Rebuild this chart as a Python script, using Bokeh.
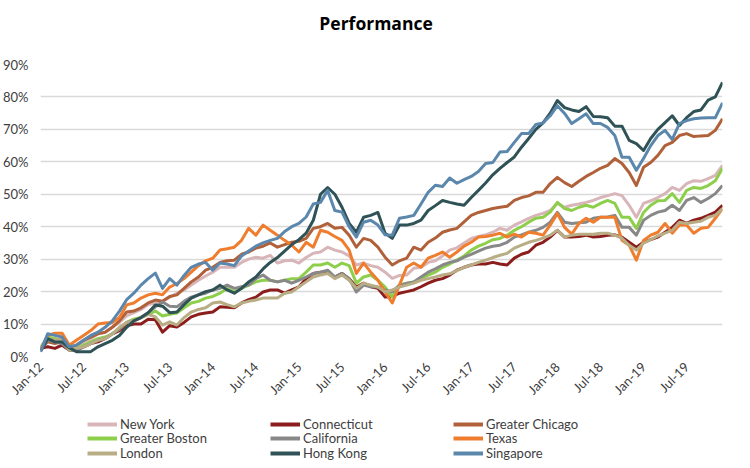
from bokeh.plotting import figure
from bokeh.models import Range1d, FixedTicker, Legend, LegendItem
from bokeh.core.properties import value
from bokeh.layouts import column
from bokeh.embed import file_html
from bokeh.resources import INLINE
import math

months = ["Jan", "Feb", "Mar", "Apr", "May", "Jun", "Jul", "Aug", "Sep", "Oct", "Nov", "Dec"]
dates = [f"{m}-{y:02d}" for y in range(12, 20) for m in months]
tick_labels = ["Jan-12", "Jul-12", "Jan-13", "Jul-13", "Jan-14", "Jul-14", "Jan-15", "Jul-15",
               "Jan-16", "Jul-16", "Jan-17", "Jul-17", "Jan-18", "Jul-18", "Jan-19", "Jul-19"]

new_york = [2, 5, 5.5, 5, 2.5, 3, 4.5, 5.5, 7, 7.5, 9, 10.5,
            12.5, 13.5, 14.5, 16, 16.5, 17, 18.3, 19.5, 20.5, 22, 23.5, 24.8,
            26, 27.5, 27.5, 27.5, 29, 30, 30.6, 30.3, 31.2, 28.8, 29.5, 29.7,
            28.8, 30.5, 31.8, 32.2, 33.7, 32.8, 32.2, 31, 28.2, 28.8, 28, 27.5,
            26, 24.1, 25, 25.1, 27.2, 27.5, 29, 29.5, 31, 32.8, 33.5, 35,
            36.4, 37, 37.5, 38.3, 39.5, 38.9, 40.5, 41.5, 42.6, 43.5, 44.1, 45,
            47.2, 46, 46.6, 47, 47.5, 48.1, 49, 49.6, 50.2, 49.6, 46.6, 42.9,
            47.2, 48, 49, 50.2, 52.1, 51.2, 53.3, 54.2, 54, 54.8, 55.8, 58.9]
connecticut = [2.5, 3, 2.5, 3.5, 2, 2, 3, 4, 4.5, 5.5, 7, 8,
               9.5, 10, 10, 11.5, 11.3, 7.5, 9.5, 9.1, 10.5, 12.2, 13, 13.4,
               13.7, 15.3, 15.2, 15, 16.5, 17.5, 18.3, 19.9, 20.5, 20.5, 19.5, 20.5,
               21.5, 24, 25.6, 26, 26, 24.5, 25.6, 24, 21.4, 22.6, 21.5, 21,
               18.3, 18.5, 19.5, 20, 20.5, 21.5, 22.6, 23.5, 24, 25.1, 26.6, 27.5,
               28.2, 28.5, 28.5, 29, 28.5, 28.2, 30.3, 31.5, 32.2, 34.3, 35.2, 36.8,
               38.9, 36.8, 36.8, 37, 37.4, 36.8, 37, 37.4, 37.5, 36.8, 35.2, 33.7,
               35.2, 36, 36.8, 38.3, 39.8, 42, 41, 42, 42.6, 43.5, 44.5, 46.6]
greater_chicago = [2.5, 4.5, 4, 4.5, 2.5, 3.5, 5, 6, 7, 7.5, 9, 11,
                   13.7, 14, 15, 16.5, 17.4, 17, 18.5, 19, 21, 23, 24.5, 26.6,
                   27.5, 29, 29.5, 29.7, 31.5, 32.2, 33.4, 34, 35, 33.7, 34.5, 35.2,
                   35.5, 36.4, 39.5, 40, 41, 39.5, 39.8, 37.4, 33.7, 36.4, 35.8, 33.7,
                   30.6, 28.2, 29.5, 30.3, 33.7, 32.8, 35.2, 36.5, 38.3, 39, 39.5, 41.5,
                   43.5, 44.4, 45, 45.6, 46, 46.3, 48.1, 49, 49.5, 50.6, 50.6, 53.3,
                   55.2, 53.6, 52.4, 54, 55.5, 56.7, 58, 58.9, 61, 59.5, 56.7, 52.7,
                   58.3, 59.8, 62, 65, 66, 68.1, 68.7, 67.8, 68, 68.1, 69.7, 73.3]
greater_boston = [2.5, 6, 5.5, 5, 2, 2.5, 3.5, 4.5, 5.5, 6, 7, 8.5,
                  10.5, 11.5, 12, 13, 14, 12.5, 13, 13.4, 15, 16.5, 17, 18,
                  18.5, 19.5, 21, 19.9, 21, 22, 23, 23.5, 23.5, 23, 23.5, 24,
                  24, 26, 28.2, 28.2, 28.8, 27.5, 28.8, 28, 22.6, 24.5, 25.1, 23.5,
                  21.4, 18.3, 22, 22.6, 23, 24, 25.1, 26, 27.5, 28.5, 29.7, 31,
                  32.8, 34, 34.9, 36, 36.4, 37.4, 38.9, 40, 41.4, 42.6, 42.9, 44.5,
                  47.5, 45.6, 45, 46, 46.6, 46, 47.2, 48.1, 47.2, 42.9, 42.9, 39.5,
                  44.4, 46.6, 48, 48.1, 50.2, 47.5, 51.2, 52.1, 51.8, 52.7, 54.2, 58]
california = [2, 5, 4.5, 4, 2, 2, 3, 4, 5, 5.5, 7, 8.5,
              10.5, 11, 12, 13.5, 15.3, 16.8, 15.5, 15.3, 17, 18.3, 19, 19.5,
              20.5, 21, 22, 21, 21.5, 22, 24, 25.1, 23.5, 23, 23.5, 22.6,
              23.5, 24.5, 25.6, 26, 26.6, 24.5, 25.6, 24, 19.9, 22, 21.5, 21.4,
              20.5, 19.9, 22, 22.5, 23, 24.5, 26, 27, 28.2, 29, 29.5, 30.6,
              31.5, 32.5, 33.4, 34, 34.3, 35.2, 36.8, 37.5, 38.3, 38.9, 39.8, 41.4,
              44.4, 41.4, 41, 41.2, 41.4, 42.6, 42.9, 43, 43.5, 39.8, 39.8, 37.4,
              42, 43.5, 44.5, 45, 46.6, 45, 48.1, 49, 47.5, 48.7, 50.2, 52.7]
texas = [2, 6.5, 7.2, 7.2, 3.5, 5, 6.5, 8, 10, 10.3, 10.5, 12,
         15.9, 16.5, 18, 19, 19.5, 19, 21.4, 22.5, 24, 26, 28, 29.5,
         30.3, 32.8, 33.2, 33.7, 35.8, 39.5, 37.4, 40.5, 38.9, 37.4, 35.8, 34.3,
         32.2, 35.2, 33.7, 38.9, 38.3, 37, 35.8, 32.8, 25.6, 28.8, 26, 23.5,
         19.9, 16.5, 22, 27.5, 28.8, 27.5, 30.3, 31.2, 32.2, 30.6, 32.2, 34,
         35.2, 36.8, 37, 37.4, 38, 36.8, 37.7, 36.8, 38.3, 38, 37.4, 40.5,
         44.1, 39.8, 37.7, 41, 42.6, 41.4, 42.9, 42.9, 42.9, 35.8, 34.3, 29.7,
         35.8, 37.4, 38.3, 41, 38, 40.5, 40.5, 38, 39.5, 39.8, 42.6, 45.6]
london = [3, 5.5, 5, 5.5, 2, 2.5, 3, 4, 5, 5.5, 7, 9,
          10.5, 11, 12, 13, 12.2, 9.7, 10.7, 9.7, 12, 13.7, 14.5, 15,
          16.5, 16.8, 16, 15.3, 16.5, 17, 17.4, 18, 18, 18, 19.5, 19.9,
          21.5, 23, 24.5, 25.1, 25.6, 24, 25.1, 23.5, 21, 22.6, 22, 21.4,
          19.9, 20.5, 21.4, 22, 22.6, 23.5, 24, 24.5, 25.1, 25.5, 26.5, 27.5,
          28.2, 29, 29.7, 30.5, 31.2, 31.8, 33.4, 34.3, 35.2, 35.8, 36.5, 37.4,
          38.9, 36.8, 37.4, 37.7, 37.7, 37.7, 38, 38, 37.4, 36.4, 34.3, 32.8,
          34.9, 36, 37.2, 38, 38.9, 41.4, 41, 41.4, 41.7, 42.9, 43.5, 45.6]
hong_kong = [1.5, 5.5, 4.5, 4.5, 2.7, 1.5, 1.5, 1.5, 3, 4, 5, 6.5,
             9, 11, 12, 13.5, 15.9, 15.5, 13.5, 13.7, 16, 18, 19, 20,
             20.5, 22, 20.5, 19.5, 21, 23, 24.5, 27, 29, 30.5, 32.5, 34.5,
             36, 38, 42, 50, 52.1, 50, 46, 41, 38.3, 42.9, 43.5, 44.4,
             38, 36.4, 40.5, 40.5, 41, 42, 45, 46.5, 48.1, 47.5, 47, 46.6,
             49, 51.2, 53.5, 56, 58, 59.8, 61.5, 64.5, 67.2, 70, 72, 75,
             78.9, 76.7, 76, 75.5, 77, 74, 73.9, 73.6, 71, 71, 66.6, 65.6,
             63.5, 67.2, 70, 72.1, 74.2, 71.2, 73.6, 75.5, 76, 79, 80, 84.5]
singapore = [1.5, 7, 6.5, 6, 3, 3.5, 5, 6.5, 7.5, 9, 11, 14,
             17.5, 19.5, 22, 24, 25.7, 21, 24, 22, 25, 27.5, 28.5, 29,
             26.6, 28.8, 28.5, 28, 31, 32.5, 34, 35, 35.8, 36.4, 38.5, 40,
             41, 43, 47, 47.5, 51.2, 45, 44.5, 40, 36.8, 41.4, 42, 40.5,
             37.5, 37.4, 42.6, 43, 43.5, 47, 50.6, 52.8, 52.4, 55, 53.4, 54.5,
             55.5, 57, 59.5, 59.8, 63, 63.2, 66, 68.7, 68.7, 71.5, 72, 74.2,
             77.3, 74.9, 71.8, 73.3, 74.8, 71.8, 71.8, 70.6, 68.1, 61.4, 61.4, 57.4,
             61, 65, 68.1, 69.7, 66.9, 71.8, 72.7, 73.3, 73.5, 73.6, 73.6, 78.2]

series_names = ["New York", "Connecticut", "Greater Chicago", "Greater Boston", "California",
                "Texas", "London", "Hong Kong", "Singapore"]
series_values = [new_york, connecticut, greater_chicago, greater_boston, california,
                 texas, london, hong_kong, singapore]
colors = ["#D8B5B9", "#8C1D1D", "#B1613A", "#8DCF4B", "#888888",
          "#F07D2E", "#B8AD84", "#2F5256", "#5B87AC"]

FONT = "Lato"
x = list(range(len(dates)))


def strip(h):
    f = figure(width=750, height=h, output_backend="svg", toolbar_location=None,
               x_range=Range1d(0, 750), y_range=Range1d(0, h),
               x_axis_location=None, y_axis_location=None,
               min_border=0, min_border_left=0, min_border_right=0,
               min_border_top=0, min_border_bottom=0)
    f.grid.visible = False
    f.outline_line_color = None
    f.background_fill_color = "white"
    f.border_fill_color = "white"
    return f


# title strip
tf = strip(40)
tf.text(x=[369], y=[18], text=["Performance"], text_font=value("Open Sans"),
        text_font_size="17.5px", text_font_style="bold", text_color="#000000",
        text_align="center", text_baseline="middle")

# main chart
p = figure(width=750, height=366, output_backend="svg", toolbar_location=None,
           x_range=Range1d(0, len(dates) - 1), y_range=Range1d(0, 90),
           min_border_left=40, min_border_right=28, min_border_top=24, min_border_bottom=50)
p.outline_line_color = None
p.background_fill_color = "white"
p.border_fill_color = "white"

for name, vals, c in zip(series_names, series_values, colors):
    p.line(x, vals, line_color=c, line_width=3, line_join="round")

tick_pos = [dates.index(t) for t in tick_labels]
p.xaxis.ticker = FixedTicker(ticks=tick_pos)
p.xaxis.major_label_overrides = {pos: lab for pos, lab in zip(tick_pos, tick_labels)}
p.xaxis.major_label_orientation = math.pi / 4
p.xaxis.axis_line_color = None
p.xaxis.major_tick_line_color = None
p.xaxis.minor_tick_line_color = None
p.xaxis.major_tick_out = 0
p.xaxis.major_tick_in = 0
p.xaxis.major_label_text_font = FONT
p.xaxis.major_label_text_font_size = "13px"
p.xaxis.major_label_text_color = "#404040"
p.xaxis.major_label_standoff = 8

p.yaxis.ticker = FixedTicker(ticks=list(range(0, 91, 10)))
p.yaxis.major_label_overrides = {v: f"{v}%" for v in range(0, 91, 10)}
p.yaxis.axis_line_color = None
p.yaxis.major_tick_line_color = None
p.yaxis.minor_tick_line_color = None
p.yaxis.major_tick_out = 0
p.yaxis.major_tick_in = 0
p.yaxis.major_label_text_font = FONT
p.yaxis.major_label_text_font_size = "13px"
p.yaxis.major_label_text_color = "#404040"
p.yaxis.major_label_standoff = 12

p.xgrid.grid_line_color = None
p.ygrid.grid_line_color = "#D9D9D9"
p.ygrid.grid_line_width = 1.5

# legend strip below the chart
lf = strip(62)
legend_renderers = []
for name, c in zip(series_names, colors):
    r = lf.line([-100, -90], [-100, -100], line_color=c, line_width=4)
    legend_renderers.append((name, r))

row_centers = [44.5, 30, 15.5]  # from bottom of strip
for k in range(3):
    items = [LegendItem(label=n, renderers=[r]) for n, r in legend_renderers[3 * k:3 * k + 3]]
    lg = Legend(items=items, orientation="horizontal",
                location=(47, row_centers[k] - 9),
                label_text_font=FONT, label_text_font_size="13px", label_text_color="#404040",
                glyph_width=30, glyph_height=18, label_height=18, label_width=146,
                label_standoff=3, spacing=4, padding=0, margin=0,
                background_fill_alpha=0, border_line_color=None)
    lf.add_layout(lg, "center")

open("out.html", "w").write(file_html(column(tf, p, lf, spacing=0), INLINE))
